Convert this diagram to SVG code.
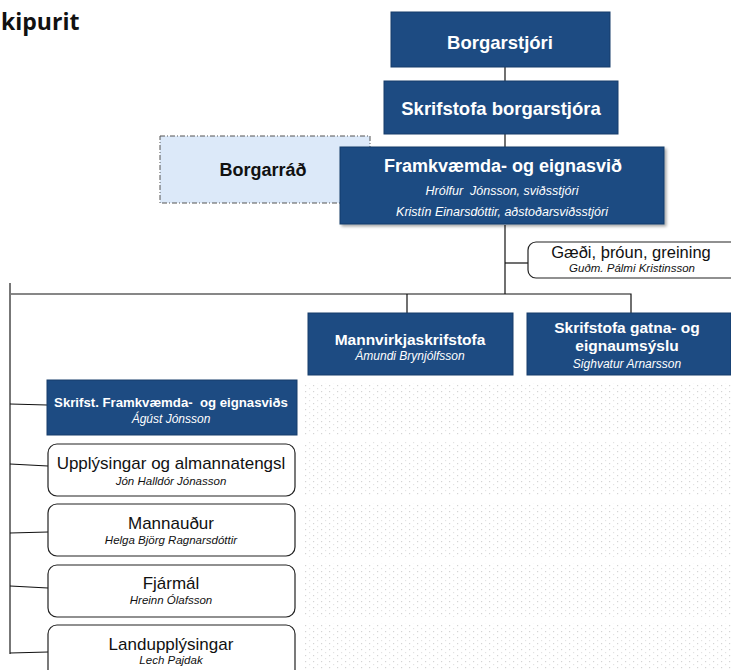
<svg xmlns="http://www.w3.org/2000/svg" width="731" height="670" viewBox="0 0 731 670">
<style>
text{font-family:"Liberation Sans",Arial,sans-serif;text-anchor:middle}
.blue{fill:#1d4b82;stroke:#163c6a;stroke-width:1}
.white{fill:#fff;stroke:#222;stroke-width:1.2}
.tw{fill:#fff;font-weight:bold}
.sw{fill:#fff;font-style:italic}
.tb{fill:#111}
.sb{fill:#111;font-style:italic}
.ln{stroke:#111;stroke-width:1.2;fill:none}
</style>
<defs>
<pattern id="dots" width="8" height="6" patternUnits="userSpaceOnUse">
<rect x="1" y="1" width="1.2" height="1.2" fill="#d4d4d4"/>
<rect x="5" y="4" width="1.2" height="1.2" fill="#e2e2e2"/>
</pattern>
<filter id="sh" x="-5%" y="-5%" width="110%" height="115%">
<feDropShadow dx="2" dy="2" stdDeviation="1.5" flood-color="#000" flood-opacity="0.35"/>
</filter>
</defs>
<rect width="731" height="670" fill="#fff"/>
<text x="1" y="30" style="text-anchor:start;font-family:'Open Sans','Noto Sans',sans-serif;font-weight:bold;font-size:23px" fill="#111">kipurit</text>

<g id="dotted-area">
<rect x="305" y="383" width="426" height="53" fill="url(#dots)"/>
<rect x="305" y="442" width="426" height="54" fill="url(#dots)"/>
<rect x="305" y="503" width="426" height="54" fill="url(#dots)"/>
<rect x="305" y="563" width="426" height="54" fill="url(#dots)"/>
<rect x="305" y="623" width="426" height="47" fill="url(#dots)"/>
</g>

<g id="connectors">
<line class="ln" x1="505" y1="67" x2="505" y2="81"/>
<line class="ln" x1="505" y1="134" x2="505" y2="147"/>
<line class="ln" x1="505" y1="225" x2="505" y2="294"/>
<line class="ln" x1="505" y1="263" x2="528" y2="263"/>
<polyline class="ln" points="10,294 631,294 631,313"/>
<line class="ln" x1="407" y1="294" x2="407" y2="313"/>
<line x1="10" y1="283" x2="10" y2="654" stroke="#777" stroke-width="2"/>
<line class="ln" x1="10" y1="404" x2="47" y2="405"/>
<line class="ln" x1="10" y1="464" x2="48" y2="466"/>
<line class="ln" x1="10" y1="533" x2="48" y2="532"/>
<line class="ln" x1="10" y1="586" x2="48" y2="588"/>
<line class="ln" x1="10" y1="653" x2="48" y2="652"/>
</g>

<g id="borgarstjori">
<rect class="blue" x="391" y="12" width="219" height="55"/>
<text class="tw" x="500" y="49" font-size="18.5">Borgarstjóri</text>
</g>

<g id="skrifstofa-borgarstjora">
<rect class="blue" x="384" y="81" width="234" height="53"/>
<text class="tw" x="501" y="115" font-size="18.5">Skrifstofa borgarstjóra</text>
</g>

<g id="borgarrad">
<rect x="160" y="136" width="210" height="67" fill="#dce9f9" stroke="#555" stroke-width="1" stroke-dasharray="5,2,1,2"/>
<text class="tb" x="263" y="176" font-size="18" font-weight="bold">Borgarráð</text>
</g>

<g id="framkvaemda">
<rect class="blue" x="340" y="147" width="324" height="77" filter="url(#sh)"/>
<text class="tw" x="503" y="172" font-size="18">Framkvæmda- og eignasvið</text>
<text class="sw" x="502" y="195" font-size="12.5" style="white-space:pre">Hrólfur  Jónsson, sviðsstjóri</text>
<text class="sw" x="502" y="216" font-size="12.5">Kristín Einarsdóttir, aðstoðarsviðsstjóri</text>
</g>

<g id="gaedi">
<rect class="white" x="528" y="242" width="215" height="36" rx="8"/>
<text class="tb" x="631" y="258" font-size="16.5">Gæði, þróun, greining</text>
<text class="sb" x="632" y="272" font-size="11.5">Guðm. Pálmi Kristinsson</text>
</g>

<g id="mannvirkjaskrifstofa">
<rect class="blue" x="308" y="313" width="205" height="62"/>
<text class="tw" x="410" y="345" font-size="15.5">Mannvirkjaskrifstofa</text>
<text class="sw" x="410" y="360" font-size="12">Ámundi Brynjólfsson</text>
</g>

<g id="skrifstofa-gatna">
<rect class="blue" x="527" y="313" width="204" height="62"/>
<text class="tw" x="627" y="333" font-size="15.5">Skrifstofa gatna- og</text>
<text class="tw" x="627" y="351" font-size="15.5">eignaumsýslu</text>
<text class="sw" x="627" y="368" font-size="12">Sighvatur Arnarsson</text>
</g>

<g id="skrifst-framkvaemda">
<rect class="blue" x="47" y="380" width="250" height="55"/>
<text class="tw" x="171" y="407" font-size="13.2" style="white-space:pre">Skrifst. Framkvæmda-  og eignasviðs</text>
<text class="sw" x="171" y="423" font-size="12">Ágúst Jónsson</text>
</g>

<g id="upplysingar">
<rect class="white" x="48" y="444" width="247" height="52" rx="9"/>
<text class="tb" x="171" y="469" font-size="17">Upplýsingar og almannatengsl</text>
<text class="sb" x="171" y="485" font-size="11.5">Jón Halldór Jónasson</text>
</g>

<g id="mannaudur">
<rect class="white" x="48" y="504" width="247" height="52" rx="9"/>
<text class="tb" x="171" y="529" font-size="17">Mannauður</text>
<text class="sb" x="171" y="544" font-size="11.5">Helga Björg Ragnarsdóttir</text>
</g>

<g id="fjarmal">
<rect class="white" x="48" y="565" width="247" height="52" rx="9"/>
<text class="tb" x="171" y="589" font-size="17">Fjármál</text>
<text class="sb" x="171" y="604" font-size="11.5">Hreinn Ólafsson</text>
</g>

<g id="landupplysingar">
<rect class="white" x="48" y="625" width="247" height="60" rx="9"/>
<text class="tb" x="171" y="650" font-size="17">Landupplýsingar</text>
<text class="sb" x="171" y="664" font-size="11.5">Lech Pajdak</text>
</g>
</svg>
